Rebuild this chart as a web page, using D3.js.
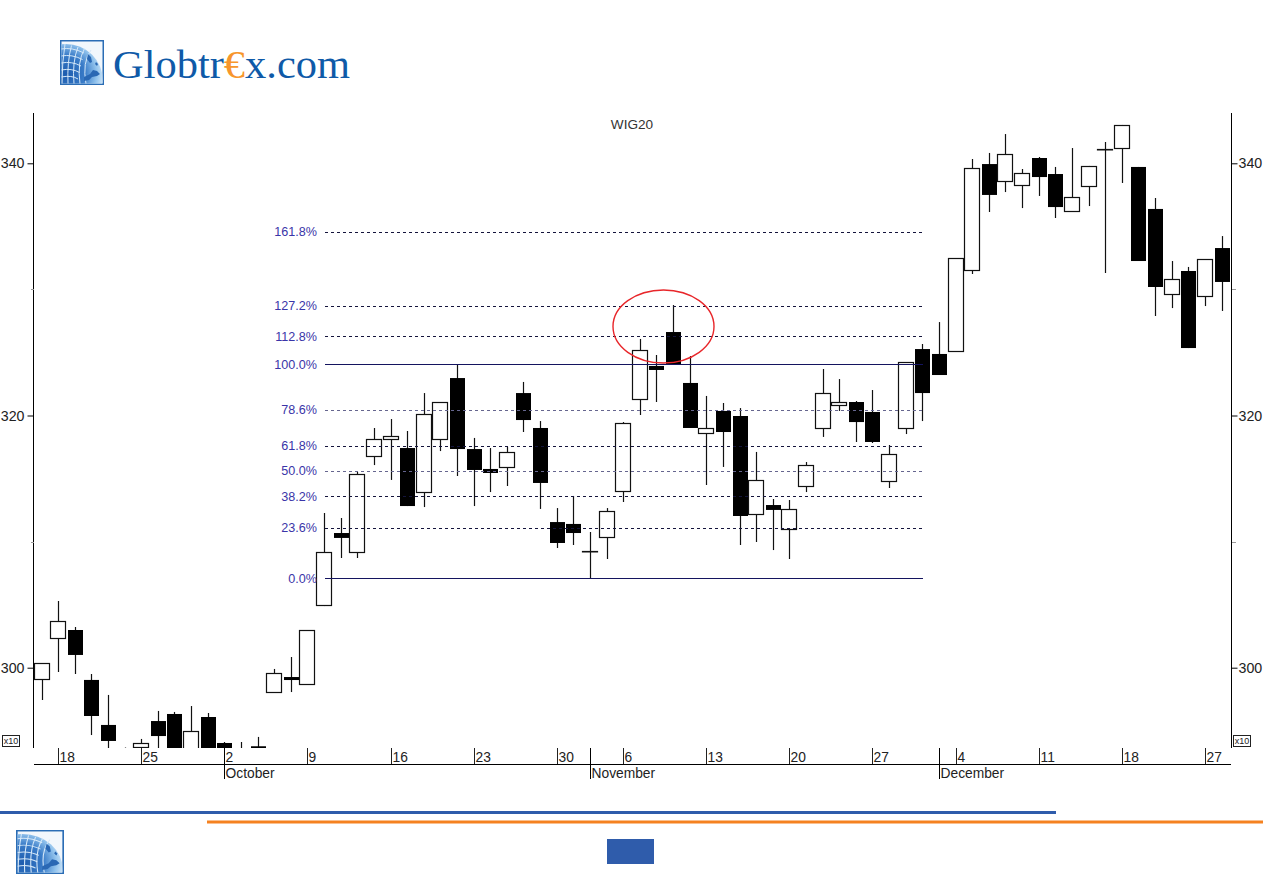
<!DOCTYPE html>
<html><head><meta charset="utf-8">
<script src="https://cdn.jsdelivr.net/npm/d3@7/dist/d3.min.js"></script>
<style>html,body{margin:0;padding:0;background:#fff}svg{display:block}text{font-family:"Liberation Sans",Arial,sans-serif}</style>
</head><body><div id="chart"></div>
<script>
const title = "WIG20";
// Daily sessions, in chart order
const open  = [299.10,302.36,302.99,299.03,295.46,293.30,293.71,295.77,296.33,293.30,296.09,294.03,293.00,293.77,298.07,299.26,298.71,305.01,310.68,309.18,316.79,318.14,317.42,313.93,318.14,322.97,317.34,315.76,315.92,321.78,319.01,311.55,311.40,309.29,310.37,314.01,321.27,323.93,326.62,322.58,318.61,320.36,319.96,312.19,312.90,311.00,314.41,319.01,320.83,321.07,320.28,314.81,319.01,325.27,324.88,325.11,331.54,339.94,338.60,338.28,340.42,339.15,336.22,338.20,341.13,341.21,339.71,336.38,329.63,331.46,329.48,333.28];
const close = [300.37,303.70,301.01,296.17,294.19,293.00,293.99,294.58,293.30,294.98,293.30,293.50,293.20,293.55,299.58,299.03,302.99,309.18,310.29,315.36,318.14,318.37,312.82,320.12,321.07,317.34,315.68,315.44,317.11,319.64,314.65,309.89,310.68,309.29,312.43,319.41,325.19,323.61,324.08,319.01,319.01,318.69,312.03,314.89,312.51,312.59,316.07,321.78,321.07,319.48,317.90,316.95,324.24,321.78,323.21,332.49,339.63,337.49,340.74,339.23,338.91,336.53,337.33,339.79,341.13,343.04,332.25,330.19,330.82,325.35,332.41,330.59];
const high  = [300.37,305.29,303.23,299.50,297.84,293.67,294.35,296.57,296.49,296.96,296.41,294.11,294.11,294.51,299.90,300.85,302.99,312.27,311.87,315.52,319.01,319.72,318.77,321.78,321.07,324.08,318.22,317.42,317.50,322.66,319.56,312.66,313.62,310.76,312.66,319.48,326.07,324.80,328.76,324.72,321.55,320.99,320.59,317.11,313.38,313.30,316.31,323.69,322.89,321.15,322.02,317.66,324.24,325.67,327.41,332.49,340.34,340.82,342.32,339.55,340.50,339.71,341.21,339.79,341.69,343.04,339.71,337.25,332.25,331.78,332.41,334.23];
const low   = [297.44,299.66,299.50,294.66,293.50,292.50,293.40,293.40,293.20,293.20,293.20,293.20,292.80,293.20,298.07,298.07,298.71,304.89,308.70,308.70,316.07,314.89,312.82,312.74,317.18,315.20,312.82,313.93,314.41,318.69,312.59,309.49,309.73,307.11,308.62,313.14,320.04,321.07,324.08,319.01,314.49,315.92,309.73,309.97,309.33,308.62,313.93,318.30,320.36,317.90,317.82,314.25,318.53,319.56,323.21,325.11,331.22,336.14,337.72,336.45,337.41,335.66,336.22,336.61,331.30,338.44,332.25,327.89,328.52,325.35,328.68,328.29];

const weekIndex  = [1,6,11,16,21,26,31,35,40,45,50,55,60,65,70];
const weekLabels = ["18","25","2","9","16","23","30","6","13","20","27","4","11","18","27"];
const monthIndex  = [11,33,54];
const monthLabels = ["October","November","December"];

const majorTicks = [300,320,340];
const minorTicks = [310,330];

const fibLabels = ["161.8%","127.2%","112.8%","100.0%","78.6%","61.8%","50.0%","38.2%","23.6%","0.0%"];
const fibValues = [334.57,328.70,326.28,324.08,320.45,317.60,315.60,313.59,311.11,307.11];
const fibSolid  = ["100.0%","0.0%"];
const fibFaint  = ["78.6%","50.0%"];

const W = 1263, H = 893;
const svg = d3.select("#chart").append("svg").attr("width",W).attr("height",H).attr("viewBox",[0,0,W,H]);
const defs = svg.append("defs");

const x = d3.scalePoint().domain(d3.range(open.length)).range([42,1222]);
const y = d3.scaleLinear().domain([300,340]).range([667.7,163.3]);
const plotTop = 113, plotBottom = 748, axisLeft = 33, axisRight = 1231, axisBase = 764;

defs.append("clipPath").attr("id","plot").append("rect")
  .attr("x",axisLeft+1).attr("y",plotTop).attr("width",axisRight-axisLeft-1).attr("height",plotBottom-plotTop);

// ---- logo
const glob = defs.append("radialGradient").attr("id","gl").attr("gradientUnits","userSpaceOnUse")
  .attr("cx",6).attr("cy",34).attr("r",38);
glob.append("stop").attr("offset",0).attr("stop-color","#1d5cae");
glob.append("stop").attr("offset",.5).attr("stop-color","#3a7cc8");
glob.append("stop").attr("offset",.8).attr("stop-color","#8fc1ec");
glob.append("stop").attr("offset",1).attr("stop-color","#cfe6f8");
function logo(gx,gy,w,h){
  const g = svg.append("g").attr("transform",`translate(${gx},${gy}) scale(${w/44},${h/45})`);
  g.append("rect").attr("x",.75).attr("y",.75).attr("width",42.5).attr("height",43.5)
    .attr("fill","#f2f7fc").attr("stroke","#2b6db5").attr("stroke-width",1.5);
  const cid = "c"+gx;
  defs.append("clipPath").attr("id",cid).append("path").attr("d","M1.5 1.5H42.5V43.5H1.5Z");
  const gc = g.append("g").attr("clip-path",`url(#${cid})`);
  gc.append("circle").attr("cx",6).attr("cy",41).attr("r",37).attr("fill","url(#gl)");
  d3.range(5).forEach(i=>gc.append("path")
    .attr("d",`M${5+i*6.5} ${4+i*1.5}Q${2+i*5} 22 ${2+i*6} 44`)
    .attr("fill","none").attr("stroke","#d5e8f8").attr("stroke-width",1));
  d3.range(5).forEach(i=>gc.append("path")
    .attr("d",`M1 ${9+i*7}Q12 ${7+i*7} ${24-i*1.5} ${13+i*6.5}`)
    .attr("fill","none").attr("stroke","#d5e8f8").attr("stroke-width",1));
  gc.append("path").attr("d","M24 37l6-3 3-4 4 1 3 3-3 2-5 1-3 3-5 1zM28 14l3 3 1 5-2 1-3-4zM36 22l2 2-1 2-2-2z").attr("fill","#2a68b4");
}
logo(60,40,44,45);
logo(16,830,48,44);

const brand = svg.append("text").attr("x",113).attr("y",78)
  .attr("textLength",237).attr("lengthAdjust","spacingAndGlyphs")
  .style("font-family",'"Liberation Serif",serif').style("font-size","41px").attr("fill","#0f5aa8");
brand.append("tspan").text("Globtr");
brand.append("tspan").attr("fill","#f7962c").text("€");
brand.append("tspan").text("x.com");

// ---- title
svg.append("text").attr("x",632).attr("y",128.5).attr("text-anchor","middle")
  .style("font-size","13.6px").attr("fill","#333").text(title);

// ---- axes
[axisLeft,axisRight].forEach(ax=>{
  svg.append("line").attr("x1",ax+.5).attr("x2",ax+.5).attr("y1",plotTop).attr("y2",plotBottom).attr("stroke","#000").attr("stroke-width",1);
});
const axL = d3.axisLeft(y).tickValues(majorTicks).tickSize(6).tickPadding(3).tickFormat(d3.format("d"));
const axR = d3.axisRight(y).tickValues(majorTicks).tickSize(6).tickPadding(1).tickFormat(d3.format("d"));
function styleAxis(g){
  g.select(".domain").remove();
  g.selectAll("text").style("font-size","14.2px").style("font-family",'"Liberation Sans",sans-serif').attr("fill","#222");
  g.selectAll("line").attr("stroke","#000");
}
svg.append("g").attr("transform",`translate(${axisLeft+.5},0)`).call(axL).call(styleAxis);
svg.append("g").attr("transform",`translate(${axisRight+.5},0)`).call(axR).call(styleAxis);
[[axisLeft-2,axisLeft+1],[axisRight+1,axisRight+5]].forEach(([a,b])=>{
  svg.selectAll(null).data(minorTicks).enter().append("line")
    .attr("x1",a).attr("x2",b).attr("y1",d=>Math.round(y(d))+.5).attr("y2",d=>Math.round(y(d))+.5)
    .attr("stroke","#999");
});

// x10 boxes
[[2,743],[1233,743]].forEach(([bx,by])=>{
  svg.append("rect").attr("x",bx+.5).attr("y",735.5).attr("width",17).attr("height",11).attr("fill","#fff").attr("stroke","#222");
  svg.append("text").attr("x",bx+9).attr("y",by+1).attr("text-anchor","middle").style("font-size","9px").attr("fill","#222").text("x10");
});

// bottom axis
svg.append("line").attr("x1",axisLeft+1).attr("x2",axisRight).attr("y1",axisBase+.5).attr("y2",axisBase+.5).attr("stroke","#000");
const wk = svg.append("g").selectAll("g").data(weekIndex).enter().append("g");
wk.append("line").attr("x1",d=>Math.floor(x(d))+.5).attr("x2",d=>Math.floor(x(d))+.5)
  .attr("y1",plotBottom).attr("y2",axisBase).attr("stroke","#222");
wk.append("text").attr("x",d=>Math.floor(x(d))+1.5).attr("y",762).style("font-size","13.8px").attr("fill","#222")
  .text((d,i)=>weekLabels[i]);
const mo = svg.append("g").selectAll("g").data(monthIndex).enter().append("g");
mo.append("line").attr("x1",d=>Math.floor(x(d))+.5).attr("x2",d=>Math.floor(x(d))+.5)
  .attr("y1",plotBottom).attr("y2",779).attr("stroke","#000");
mo.append("text").attr("x",d=>Math.floor(x(d))+1.5).attr("y",777.5).style("font-size","13.8px").attr("fill","#222")
  .text((d,i)=>monthLabels[i]);

// ---- candles
const plot = svg.append("g").attr("clip-path","url(#plot)");
const candles = d3.range(open.length);
const bodyW = 15;
plot.selectAll("line.w").data(candles).enter().append("line").attr("class","w")
  .attr("x1",i=>Math.floor(x(i))+.5).attr("x2",i=>Math.floor(x(i))+.5)
  .attr("y1",i=>y(high[i])).attr("y2",i=>y(low[i])).attr("stroke","#111").attr("stroke-width",1.2);
plot.selectAll("rect.b").data(candles).enter().append("rect").attr("class","b")
  .each(function(i){
    const top = y(Math.max(open[i],close[i])), bot = y(Math.min(open[i],close[i]));
    const up = close[i] >= open[i];
    const sel = d3.select(this);
    if(up){
      sel.attr("x",Math.floor(x(i))-7.5).attr("width",bodyW).attr("y",Math.round(top)+.5)
         .attr("height",Math.max(0.4,Math.round(bot)-Math.round(top)))
         .attr("fill","#fff").attr("stroke","#111").attr("stroke-width",1.2);
    } else {
      sel.attr("x",Math.floor(x(i))-7).attr("width",bodyW).attr("y",top)
         .attr("height",Math.max(3,bot-top)).attr("fill","#000");
    }
  });

// ---- Fibonacci levels
const fib = svg.append("g").selectAll("g").data(fibValues).enter().append("g");
const fibX0 = 325, fibX1 = 923;
fib.append("line").attr("x1",fibX0).attr("x2",fibX1)
  .attr("y1",d=>Math.round(y(d))+.5).attr("y2",d=>Math.round(y(d))+.5)
  .attr("stroke",(d,i)=>fibSolid.includes(fibLabels[i])?"#14145f":fibFaint.includes(fibLabels[i])?"#66668f":"#14143c")
  .attr("stroke-dasharray",(d,i)=>fibSolid.includes(fibLabels[i])?null:"3,3");
fib.append("text").attr("x",317).attr("y",d=>y(d)+4.5).attr("text-anchor","end")
  .style("font-size","12.6px").attr("fill","#3a35a8").text((d,i)=>fibLabels[i]);

// ---- highlight ellipse
svg.append("ellipse").attr("cx",663.5).attr("cy",326.5).attr("rx",50.5).attr("ry",36.5)
  .attr("fill","none").attr("stroke","#e8262a").attr("stroke-width",1.4);

// ---- footer
svg.append("rect").attr("x",0).attr("y",811).attr("width",1056).attr("height",3).attr("fill","#2f5cab");
svg.append("rect").attr("x",207).attr("y",820.5).attr("width",1056).attr("height",3).attr("fill","#f58220");
svg.append("rect").attr("x",607).attr("y",839).attr("width",47).attr("height",25).attr("fill","#2f5cab");
</script></body></html>
